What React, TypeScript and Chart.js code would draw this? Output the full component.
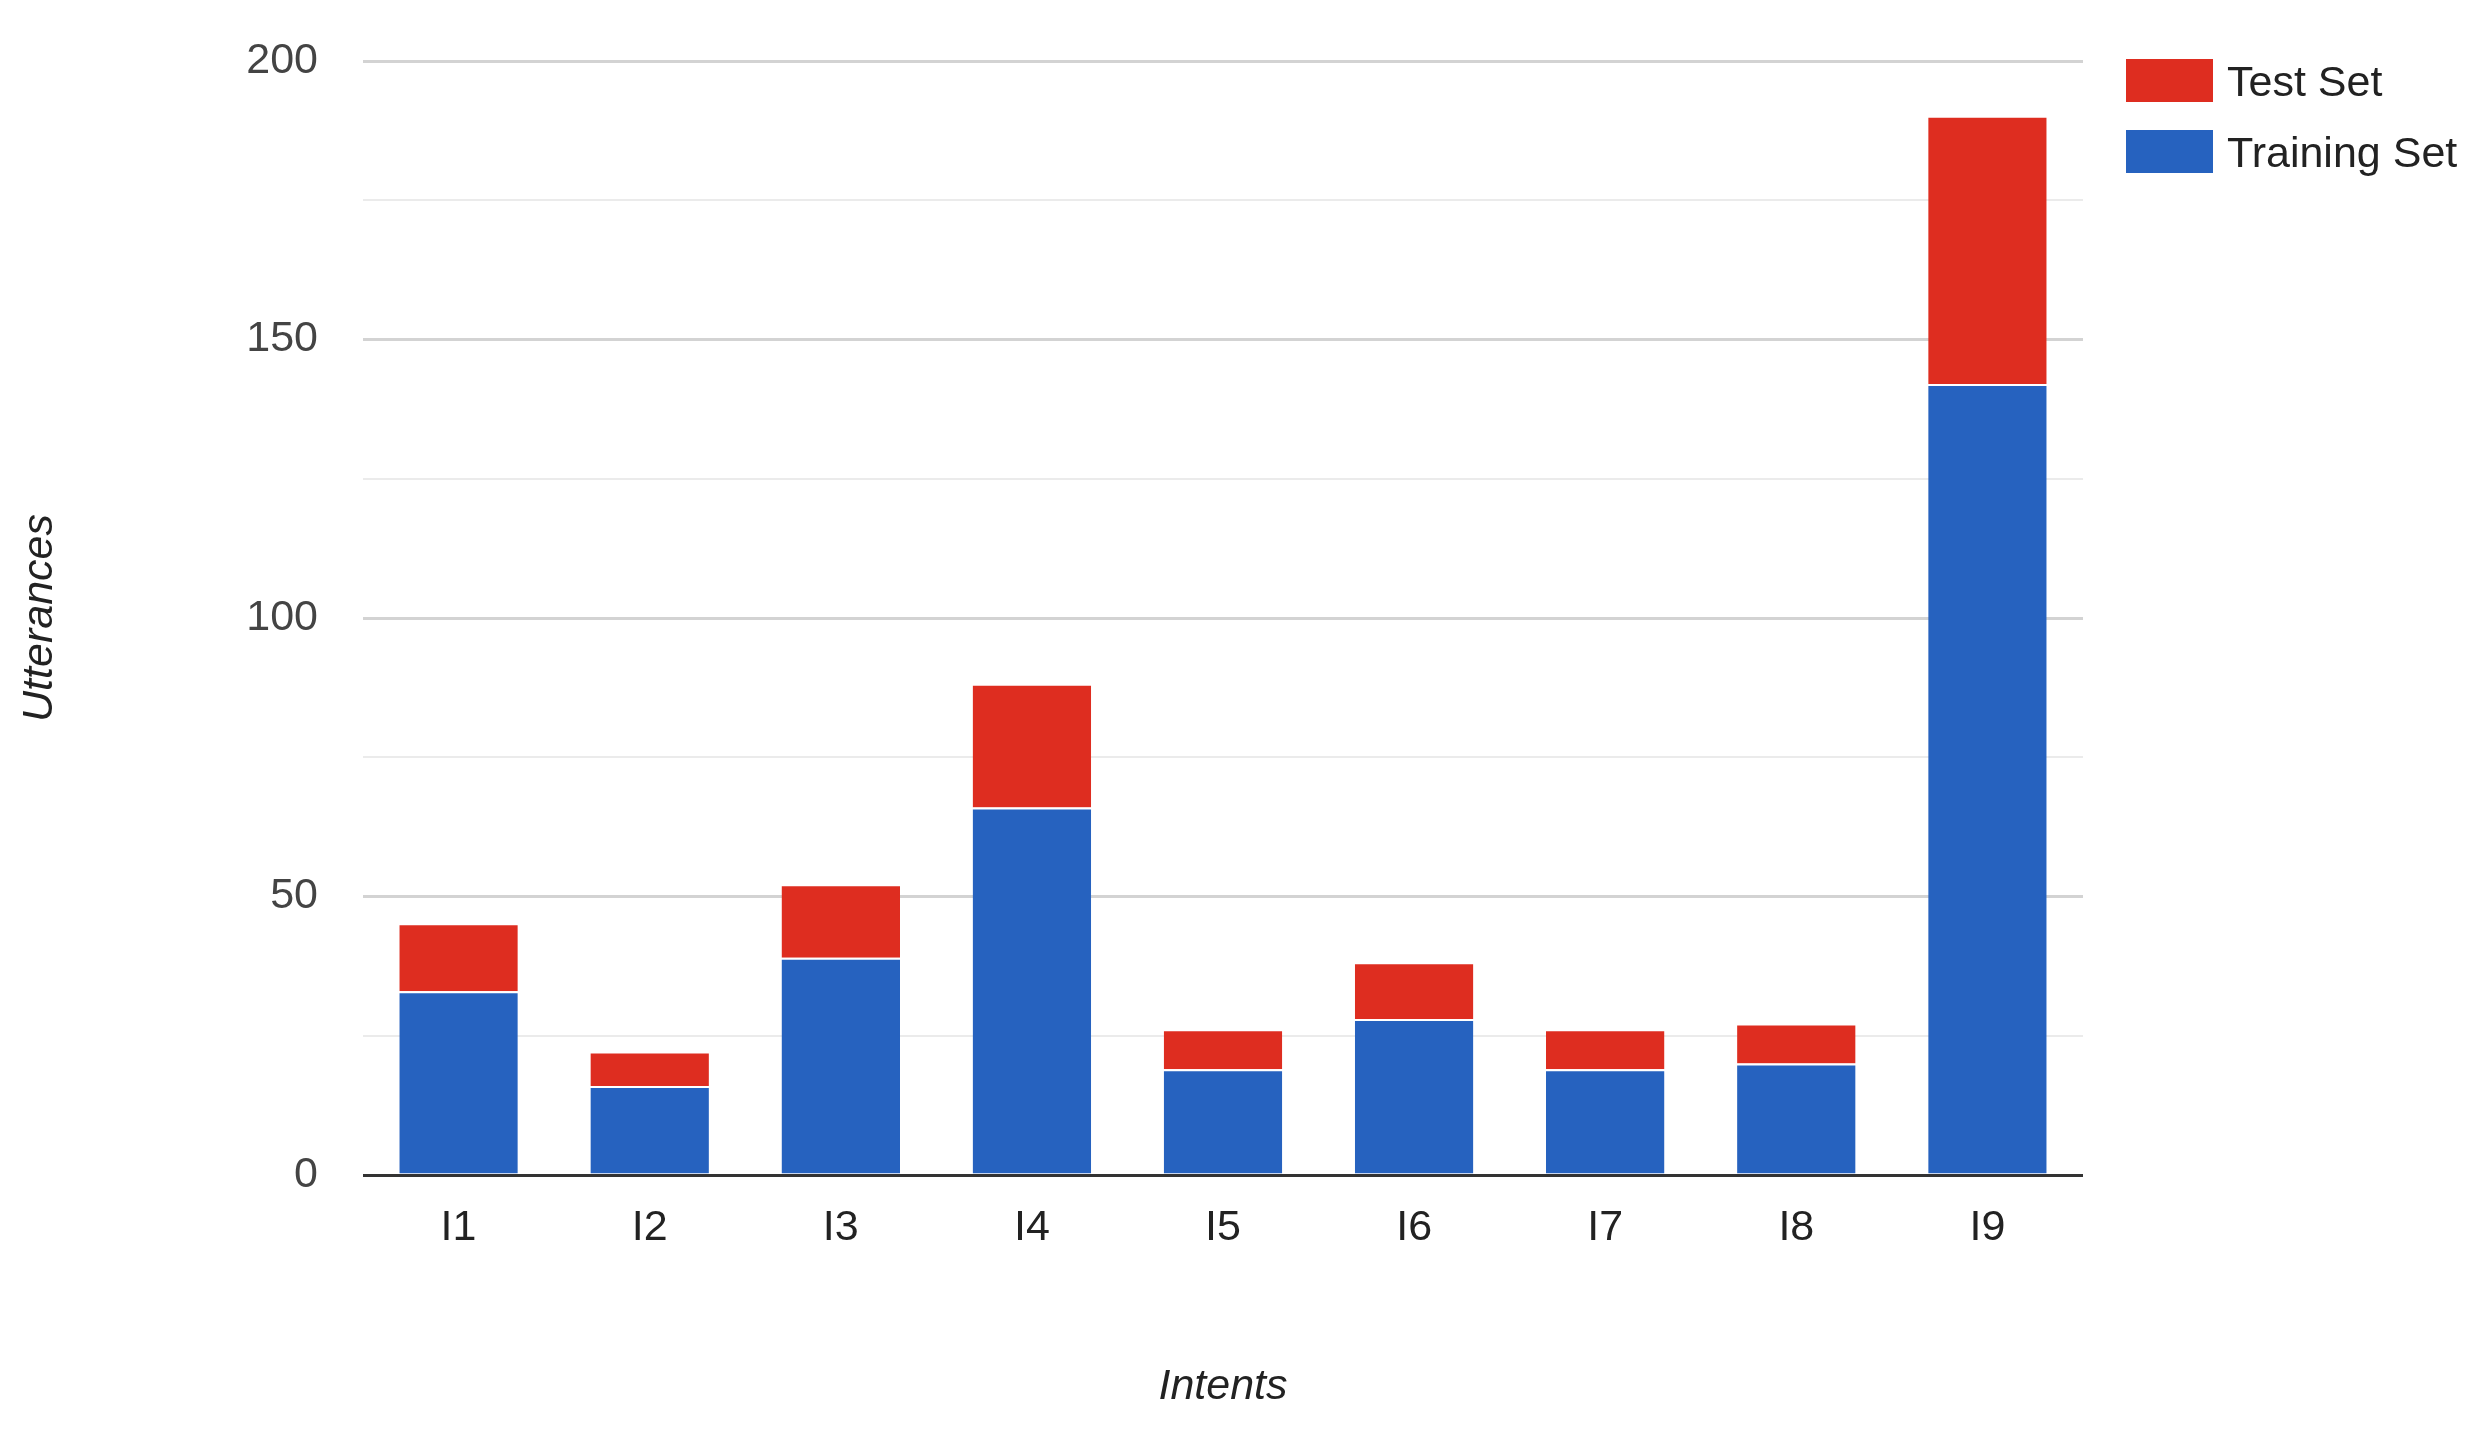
import React, { useEffect, useRef } from "react";
import { Chart, registerables } from "chart.js";

Chart.register(...registerables);

const categories = ["I1", "I2", "I3", "I4", "I5", "I6", "I7", "I8", "I9"];
const trainingSet = [33, 16, 39, 66, 19, 28, 19, 20, 142];
const testSet = [12, 6, 13, 22, 7, 10, 7, 7, 48];
const seriesLabels = ["Training Set", "Test Set"];
const seriesColors = ["#2662BF", "#DE2D20"];
const yTicksMajor = [0, 50, 100, 150, 200];

const FONT = "'Liberation Sans', Arial, sans-serif";

const legendPlugin = {
  id: "customLegend",
  afterDraw(chart: any) {
    const ctx = chart.ctx;
    const ds = chart.data.datasets.slice().reverse();
    ctx.save();
    ds.forEach((d: any, i: number) => {
      const y = 59 + i * 71;
      ctx.fillStyle = d.backgroundColor;
      ctx.fillRect(2126, y, 87, 43);
      ctx.fillStyle = "#222222";
      ctx.font = `43px ${FONT}`;
      ctx.textBaseline = "middle";
      ctx.textAlign = "left";
      ctx.fillText(d.label, 2227, y + 25);
    });
    ctx.restore();
  },
};

export default function App() {
  const ref = useRef<HTMLCanvasElement | null>(null);
  useEffect(() => {
    if (!ref.current) return;
    const chart = new Chart(ref.current, {
      type: "bar",
      data: {
        labels: categories,
        datasets: [
          {
            label: seriesLabels[0],
            data: trainingSet,
            backgroundColor: seriesColors[0],
            borderColor: "#ffffff",
            borderWidth: { top: 2, left: 0, right: 0, bottom: 0 },
            borderSkipped: false,
          },
          {
            label: seriesLabels[1],
            data: testSet,
            backgroundColor: seriesColors[1],
            borderColor: "#ffffff",
            borderWidth: { top: 1, left: 0, right: 0, bottom: 0 },
            borderSkipped: false,
          },
        ],
      },
      options: {
        animation: false,
        responsive: false,
        maintainAspectRatio: false,
        layout: { padding: { top: 61, right: 399, left: 0, bottom: 0 } },
        datasets: { bar: { barPercentage: 0.62, categoryPercentage: 1 } },
        plugins: { legend: { display: false }, tooltip: { enabled: false } },
        scales: {
          x: {
            stacked: true,
            grid: { display: false, drawTicks: false },
            border: { display: false },
            ticks: { color: "#222222", font: { family: FONT, size: 43 }, padding: 27 },
            title: {
              display: true,
              text: "Intents",
              color: "#222222",
              font: { family: FONT, size: 43, style: "italic" },
              padding: { top: 0, bottom: 22 },
            },
            afterFit: (s: any) => {
              s.height = 1435 - 1175;
              s.paddingLeft = 0;
              s.paddingRight = 0;
            },
          },
          y: {
            stacked: true,
            min: 0,
            max: 200,
            afterBuildTicks: (s: any) => {
              s.ticks = [0, 25, 50, 75, 100, 125, 150, 175, 200].map((v) => ({ value: v }));
            },
            grid: {
              drawTicks: false,
              color: (c: any) =>
                c.tick && c.tick.value === 0 ? "#333333" : yTicksMajor.includes(c.tick?.value) ? "#d3d3d3" : "#ebebeb",
              lineWidth: (c: any) =>
                c.tick && c.tick.value === 0 ? 3 : yTicksMajor.includes(c.tick?.value) ? 3 : 2,
            },
            border: { display: false },
            ticks: {
              color: "#444444",
              font: { family: FONT, size: 43 },
              padding: 45,
              callback: (v: any) => (yTicksMajor.includes(Number(v)) ? String(v) : ""),
            },
            title: {
              display: true,
              text: "Utterances",
              color: "#222222",
              font: { family: FONT, size: 43, style: "italic" },
              padding: { top: 14, bottom: 0 },
            },
            afterFit: (s: any) => {
              s.width = 363;
              s.paddingTop = 0;
              s.paddingBottom = 0;
            },
          },
        },
      },
      plugins: [legendPlugin],
    });
    return () => chart.destroy();
  }, []);
  return (
    <div style={{ position: "absolute", left: 0, top: 0, width: 2482, height: 1435, background: "#fff" }}>
      <canvas ref={ref} width={2482} height={1435} style={{ width: 2482, height: 1435, display: "block" }} />
    </div>
  );
}
